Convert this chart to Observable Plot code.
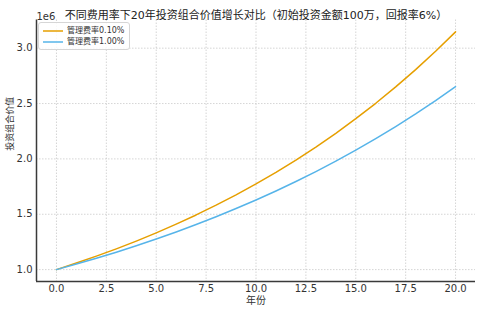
<!DOCTYPE html>
<html>
<head>
<meta charset="utf-8">
<script src="https://cdn.jsdelivr.net/npm/d3@7"></script>
<script src="https://cdn.jsdelivr.net/npm/@observablehq/plot@0.6"></script>
<style>
  html, body { margin: 0; padding: 0; background: white; }
  #wrap { position: relative; width: 480px; height: 311px; font-family: "DejaVu Sans", "Noto Sans CJK SC", sans-serif; }
  #legend { position: absolute; left: 38px; top: 22px; background: rgba(255,255,255,0.85); border: 1px solid #d6d6d6; border-radius: 3px; padding: 2px 5px 2px 4px; font-size: 8px; color: #333; line-height: 11px; }
  #legend .row { display: flex; align-items: center; white-space: nowrap; }
  #legend svg { margin-right: 4px; }
</style>
</head>
<body>
<div id="wrap"></div>
<script>
const years = [0,1,2,3,4,5,6,7,8,9,10,11,12,13,14,15,16,17,18,19,20];
const valuesLowFee = [1000000,1059000,1121481,1187648,1257719,1331924,1410508,1493728,1581858,1675188,1774024,1878691,1989534,2106917,2231225,2362867,2502276,2649910,2806255,2971824,3147162];
const valuesHighFee = [1000000,1050000,1102500,1157625,1215506,1276282,1340096,1407100,1477455,1551328,1628895,1710339,1795856,1885649,1979932,2078928,2182875,2292018,2406619,2526950,2653298];
const seriesNames = ["管理费率0.10%", "管理费率1.00%"];
const seriesColors = ["#E69F00", "#56B4E9"];
const xTicks = [0, 2.5, 5, 7.5, 10, 12.5, 15, 17.5, 20];
const yTicks = [1000000, 1500000, 2000000, 2500000, 3000000];
const titleText = "不同费用率下20年投资组合价值增长对比（初始投资金额100万，回报率6%）";
const xLabel = "年份";
const yLabel = "投资组合价值";
const yExponent = "1e6";

const data = [];
years.forEach((yr, i) => {
  data.push({year: yr, value: valuesLowFee[i], series: seriesNames[0]});
  data.push({year: yr, value: valuesHighFee[i], series: seriesNames[1]});
});

const yMin = 892600, yMax = 3254500;

const chart = Plot.plot({
  width: 480,
  height: 311,
  marginLeft: 36,
  marginRight: 5,
  marginTop: 19.5,
  marginBottom: 30,
  style: {fontFamily: "'DejaVu Sans', 'Noto Sans CJK SC', sans-serif", fontSize: "10px", color: "#333", background: "white", overflow: "visible"},
  x: {domain: [-1, 21]},
  y: {domain: [yMin, yMax]},
  color: {domain: seriesNames, range: seriesColors},
  marks: [
    Plot.gridX(xTicks, {stroke: "#bdbdbd", strokeOpacity: 0.8, strokeDasharray: "1.5,1.5", strokeWidth: 0.8}),
    Plot.gridY(yTicks, {stroke: "#bdbdbd", strokeOpacity: 0.8, strokeDasharray: "1.5,1.5", strokeWidth: 0.8}),
    Plot.line(data, {x: "year", y: "value", stroke: "series", strokeWidth: 1.5}),
    Plot.ruleX([-1], {stroke: "#3a3a3a", strokeWidth: 1.5}),
    Plot.ruleY([yMin], {stroke: "#3a3a3a", strokeWidth: 1.5}),
    Plot.axisX(xTicks, {tickSize: 0, tickPadding: 3, tickFormat: d => d.toFixed(1), label: null, fontSize: 10}),
    Plot.axisY(yTicks, {tickSize: 0, tickPadding: 4, tickFormat: d => (d / 1e6).toFixed(1), label: null, fontSize: 10}),
    Plot.text([titleText], {frameAnchor: "top", dy: -9, fontSize: 11, fill: "#222"}),
    Plot.text([yExponent], {frameAnchor: "top-left", textAnchor: "start", dy: -7, fontSize: 10, fill: "#333"}),
    Plot.text([yLabel], {frameAnchor: "left", rotate: -90, dx: -26, fontSize: 9, fill: "#333"}),
    Plot.text([xLabel], {frameAnchor: "bottom", dy: 22, fontSize: 10, fill: "#333"})
  ]
});

const wrap = document.getElementById("wrap");
wrap.appendChild(chart);

const legend = document.createElement("div");
legend.id = "legend";
seriesNames.forEach((name, i) => {
  const row = document.createElement("div");
  row.className = "row";
  row.innerHTML = `<svg width="20" height="6"><line x1="0" x2="20" y1="3" y2="3" stroke="${seriesColors[i]}" stroke-width="1.5"/></svg><span>${name}</span>`;
  legend.appendChild(row);
});
wrap.appendChild(legend);
</script>
</body>
</html>
